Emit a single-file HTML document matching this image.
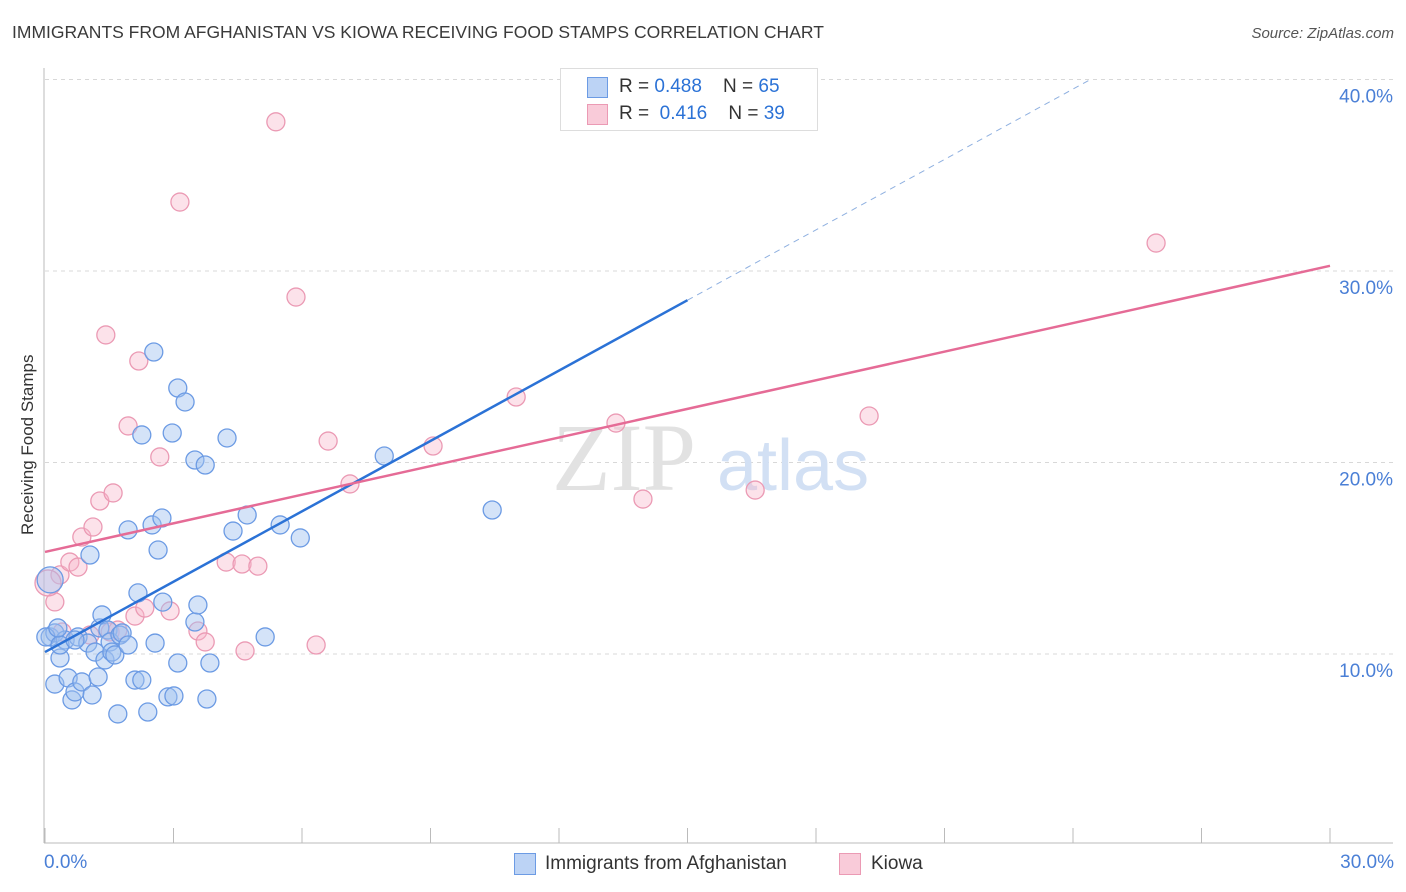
<!DOCTYPE html>
<html><head><meta charset="utf-8">
<style>
body{margin:0;background:#fff;font-family:"Liberation Sans",sans-serif;}
#wrap{position:relative;width:1406px;height:892px;overflow:hidden;}
.t{position:absolute;white-space:nowrap;}
</style></head>
<body>
<div id="wrap">
<div class="t" style="left:12px;top:22px;font-size:17.5px;color:#3a3a3a;">IMMIGRANTS FROM AFGHANISTAN VS KIOWA RECEIVING FOOD STAMPS CORRELATION CHART</div>
<div class="t" style="right:12px;top:25px;font-size:15px;color:#555;font-style:italic;">Source: ZipAtlas.com</div>
<svg id="svg" width="1406" height="892" style="position:absolute;left:0;top:0"></svg>
</div>
<script>
const blueX=[0.12,0.23,0.23,0.35,0.47,0.54,0.63,0.70,0.77,0.86,1.00,1.05,1.10,1.17,1.24,1.28,1.33,1.40,1.47,1.52,1.56,1.63,1.70,1.75,1.80,1.94,2.10,2.17,2.26,2.26,2.40,2.50,2.54,2.57,2.64,2.73,2.75,2.87,2.97,3.01,3.10,3.10,3.27,3.50,3.50,3.57,3.74,3.78,3.85,4.25,4.39,4.72,5.14,5.49,5.96,7.92,10.44,0.02,0.35,0.30,0.70,1.94];
const blueY=[10.89,11.10,8.43,9.79,10.73,8.75,7.60,8.02,10.89,8.54,10.57,15.17,7.86,10.10,8.80,11.36,12.04,9.69,11.25,10.63,10.10,9.95,6.87,10.99,11.10,16.48,8.64,13.19,8.64,21.44,6.97,16.74,25.77,10.57,15.43,17.10,12.71,7.76,21.54,7.81,23.89,9.53,23.16,11.67,20.13,12.56,19.87,7.65,9.53,21.28,16.42,17.26,10.89,16.74,16.06,20.34,17.52,10.89,10.47,11.36,10.73,10.47];
const blueBig=[[0.12,13.87]];
const pinkX=[0.23,0.35,0.58,0.77,0.86,1.12,1.28,1.42,1.52,1.59,1.70,1.94,2.10,2.19,2.33,2.68,2.92,3.15,3.57,3.74,4.23,4.60,4.67,4.97,5.39,5.86,6.33,6.61,7.12,9.06,11.00,13.33,13.96,16.58,19.24,25.94,0.40,1.05];
const pinkY=[12.72,14.13,14.80,14.54,16.11,16.63,17.99,26.66,11.15,18.41,11.25,21.91,11.98,25.30,12.40,20.29,12.25,33.60,11.20,10.63,14.80,14.70,10.16,14.59,37.79,28.64,10.47,21.12,18.88,20.86,23.42,22.06,18.09,18.56,22.43,31.46,11.15,10.99];
const pinkBig=[[0.07,13.71]];
const blueFit=[10.10,1.225]; // intercept, slope
const pinkFit=[15.33,0.498];
const yTicks=[10,20,30,40];
const yTickLabels=["10.0%","20.0%","30.0%","40.0%"];

const svg=document.getElementById('svg');const NS='http://www.w3.org/2000/svg';
const X=v=>45+v*1285/30, Y=v=>845.5-v*19.15;
function mk(tag,a,parent){const e=document.createElementNS(NS,tag);for(const k in a)e.setAttribute(k,a[k]);(parent||svg).appendChild(e);return e;}
// grid
yTicks.forEach((t,i)=>{
 const g=mk('line',{x1:45,x2:1393,y1:Y(t),y2:Y(t),stroke:'#d8d8d8','stroke-dasharray':'4,4'});
 
 const tx=mk('text',{x:1393,y:Y(t)+23,'text-anchor':'end','font-size':19,fill:'#4a7fd6','font-family':'Liberation Sans'});
 tx.textContent=yTickLabels[i];
 
});
// watermark
const w1=mk('text',{x:552,y:490,'font-size':96,fill:'#e2e2e2','font-family':'Liberation Serif'});w1.textContent='ZIP';

const w2=mk('text',{x:717,y:490,'font-size':72,fill:'#d2e0f4','font-family':'Liberation Sans'});w2.textContent='atlas';

// axes
const ax=mk('line',{x1:44,x2:44,y1:68,y2:843,stroke:'#bbb'});
const bx=mk('line',{x1:44,x2:1393,y1:843,y2:843,stroke:'#bbb'});
for(let i=0;i<=10;i++){const tk=mk('line',{x1:X(i*3),x2:X(i*3),y1:828,y2:843,stroke:'#bbb'});}
// points
function pts(xs,ys,fill,stroke,name,r){xs.forEach((v,i)=>{const c=mk('circle',{cx:X(v),cy:Y(ys[i]),r:r,fill:fill,stroke:stroke,'stroke-width':1.3});
 });}
pts(pinkX,pinkY,'rgba(248,182,202,0.4)','#eb9ab4','kiowa-point',9);
pts(blueX,blueY,'rgba(160,192,240,0.45)','#6c9be4','afghanistan-point',9);
pts(pinkBig.map(p=>p[0]),pinkBig.map(p=>p[1]),'rgba(248,182,202,0.4)','#eb9ab4','kiowa-point',13);
pts(blueBig.map(p=>p[0]),blueBig.map(p=>p[1]),'rgba(160,192,240,0.4)','#6c9be4','afghanistan-point',13);
// fits
const bl=mk('line',{x1:X(0),y1:Y(blueFit[0]),x2:X(15),y2:Y(blueFit[0]+15*blueFit[1]),stroke:'#2b72d6','stroke-width':2.5});

const xe=(40-blueFit[0])/blueFit[1];
const bd=mk('line',{x1:X(15),y1:Y(blueFit[0]+15*blueFit[1]),x2:X(xe),y2:Y(40),stroke:'#8fb0e0','stroke-width':1,'stroke-dasharray':'6,5'});

const pl=mk('line',{x1:X(0),y1:Y(pinkFit[0]),x2:X(30),y2:Y(pinkFit[0]+30*pinkFit[1]),stroke:'#e56b96','stroke-width':2.5});

</script>
<div class="t" style="left:-52px;top:445px;transform:rotate(-90deg);font-size:17px;color:#333;width:160px;text-align:center;">Receiving Food Stamps</div>
<div class="t" style="left:44px;top:852px;font-size:19px;color:#4a7fd6;">0.0%</div>
<div class="t" style="right:12px;top:852px;font-size:19px;color:#4a7fd6;">30.0%</div>
<div style="position:absolute;left:560px;top:68px;width:256px;height:61px;border:1px solid #ddd;background:#fff;font-size:19px;color:#333;">
 <div style="position:absolute;left:26px;top:8px;width:19px;height:19px;background:#bcd3f5;border:1px solid #6c9be4;"></div>
 <div class="t" style="left:58px;top:7px;">R = <span style="color:#2b72d6">0.488</span>&nbsp;&nbsp;&nbsp; N = <span style="color:#2b72d6">65</span></div>
 <div style="position:absolute;left:26px;top:35px;width:19px;height:19px;background:#f9cbd9;border:1px solid #eb9ab4;"></div>
 <div class="t" style="left:58px;top:34px;">R = &nbsp;<span style="color:#2b72d6">0.416</span>&nbsp;&nbsp;&nbsp; N = <span style="color:#2b72d6">39</span></div>
</div>
<div style="position:absolute;left:514px;top:853px;font-size:19px;color:#333;">
 <div style="position:absolute;left:0;top:0;width:20px;height:20px;background:#bcd3f5;border:1px solid #6c9be4;"></div>
 <div class="t" style="left:31px;top:0;">Immigrants from Afghanistan</div>
 <div style="position:absolute;left:325px;top:0;width:20px;height:20px;background:#f9cbd9;border:1px solid #eb9ab4;"></div>
 <div class="t" style="left:357px;top:0;">Kiowa</div>
</div>
</body></html>
